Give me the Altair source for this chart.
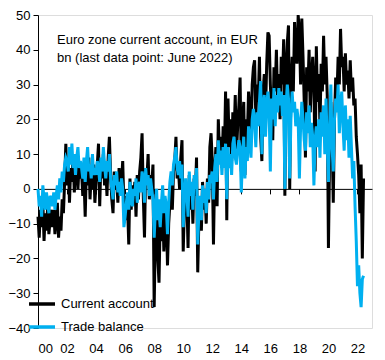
import altair as alt
import pandas as pd

# Monthly values, Jan 2000 - Jun 2022, EUR bn
CURRENT_ACCOUNT = [
    -8, -14, -6, -11, -4, -15, -7, -12, -5, -13, -9, -6,      # 2000
    -11, -6, -13, -9, -4, -14, -8, -12, -3, -7, 2, 13,        # 2001
    1, 9, -4, 6, 2, 10, -1, 5, 8, 0, 7, 3,                    # 2002
    5, -2, 3, -8, 6, 1, 9, -3, 4, 0, 7, -4,                   # 2003
    2, 7, 13, -5, 8, 3, 10, 1, 6, -2, 9, 15,                  # 2004
    4, -3, -7, 5, 0, 3, -4, 6, -2, 2, 8, -5,                  # 2005
    -9, -2, -5, -16, 3, -6, 1, -4, 2, -8, 4, -3,              # 2006
    5, 9, 16, -2, -14, 6, 3, 10, -3, 4, 1, 7,                 # 2007
    -34, -12, -5, -20, -27, -8, -15, -3, -18, -10, -6, -22,   # 2008
    -10, -4, 2, -6, 5, 8, 15, 3, 6, 0, 9, 14,                 # 2009
    -18, -5, 2, -3, -17, 4, -6, 1, -10, 3, -2, 9,             # 2010
    -24, -8, -3, -12, 2, -6, -1, -10, 3, -4, 12, 16,          # 2011
    8, -16, 5, 12, -5, 20, 10, 15, 6, 18, 9, 28,              # 2012
    -9, 26, 12, 20, 8, 22, 15, 27, 10, 18, 24, 32,            # 2013
    5, 18, 25, 4, 20, 15, 28, 22, 14, 30, 35, 37,             # 2014
    20, 30, 25, 38, 15, 8, 28, 33, 22, 36, 45, 44,            # 2015
    30, 22, 14, 35, 28, 40, 25, 33, 20, 38, 30, 43,           # 2016
    -2, 35, 42, 47, 0, 30, 38, 28, 48, 40, 36, 50,            # 2017
    45, 30, 49, 38, 25, 9, 35, 28, 40, 22, 32, 38,            # 2018
    30, 5, 41, 25, 33, 18, 36, 28, 44, 30, 38, 27,            # 2019
    -17, 10, 25, 15, -4, 20, 32, 26, 38, 30, 46, 35,          # 2020
    38, 28, 39, 30, 34, 26, 37, 28, 32, 24, 26, 15,           # 2021
    10, 4, -7, 7, -20, 3,                                     # 2022
]

TRADE_BALANCE = [
    0, -5, -2, -8, 1, -3, -6, -1, -4, -7, -2, -3,             # 2000
    -5, -1, -6, -2, 1, -3, 3, -1, 5, 2, 7, 9,                 # 2001
    8, 5, 12, 7, 13, 6, 10, 4, 9, 12, 6, 8,                   # 2002
    6, 3, 9, 2, 8, 12, 5, 7, 3, 10, 4, 6,                     # 2003
    4, 8, 6, 2, 9, 5, 12, 7, 3, 8, 5, 10,                     # 2004
    3, 0, -3, 4, 1, 5, -1, 2, -2, 3, 0, -11,                  # 2005
    -8, -4, -1, -6, 2, -3, -5, 0, -2, 3, -4, 1,               # 2006
    2, -1, 5, 3, -4, 6, 1, 4, -2, 3, 0, -3,                   # 2007
    -14, -6, 0, -9, -3, -11, -4, 1, -7, -2, -5, -13,          # 2008
    -4, 2, 5, 1, 7, 9, 12, 6, 4, 8, 3, 7,                     # 2009
    -11, -3, 3, -1, -8, 5, -2, 2, -6, 4, 0, 6,                # 2010
    -16, -6, -2, -9, 1, -4, 0, -7, 2, -3, 4, 3,               # 2011
    5, -3, 6, 10, 2, 14, 7, 11, 4, 12, 6, 13,                 # 2012
    -3, 12, 6, 10, 4, 13, 15, 9, 7, 11, 14, 12,               # 2013
    -1, 10, 15, 3, 12, 8, 18, 14, 9, 20, 23, 19,              # 2014
    12, 22, 18, 25, 31, 10, 24, 27, 15, 24, 28, 22,           # 2015
    5, 26, 20, 29, 18, 27, 22, 29, 24, 28, 21, 27,            # 2016
    0, 24, 30, 26, 3, 20, 28, 22, 25, 18, 23, 20,             # 2017
    3, 18, 25, 20, 14, 11, 22, 16, 24, 12, 19, 15,            # 2018
    1, 14, 18, 12, 20, 9, 22, 15, 24, 10, 26, 13,             # 2019
    2, 18, 30, 12, 5, 20, 26, 22, 30, 16, 24, 28,             # 2020
    18, 11, 24, 14, 20, 9, 21, 12, 3, 8, -5, -15,             # 2021
    -28, -22, -30, -34, -26, -25,                             # 2022
]

SERIES = ["Current account", "Trade balance"]
COLORS = ["#000000", "#00B0F0"]
START_YEAR = 2000
X_TICKS = list(range(2000, 2023, 2))
X_TICK_LABELS = ["00", "02", "04", "06", "08", "10", "12", "14", "16", "18", "20", "22"]
Y_TICKS = list(range(-40, 51, 10))
TITLE_LINES = ["Euro zone current account, in EUR", "bn (last data point: June 2022)"]

rows = []
for name, vals in zip(SERIES, [CURRENT_ACCOUNT, TRADE_BALANCE]):
    for i, v in enumerate(vals):
        rows.append({"t": START_YEAR + i / 12.0, "v": v, "series": name})
df = pd.DataFrame(rows)

FONT = "Liberation Sans"
FS = 13
PLOT_W, PLOT_H = 334, 313

x_scale = alt.Scale(domain=[2000, 2023], nice=False, zero=False)
y_scale = alt.Scale(domain=[-40, 50], nice=False, zero=False)

label_expr = "[" + ",".join("'%s'" % s for s in X_TICK_LABELS) + "][round((datum.value - 2000) / 2)]"

label_axis = alt.Axis(values=X_TICKS, labelExpr=label_expr, domain=False, ticks=False,
                      tickSize=0, grid=False, title=None, labelPadding=14,
                      labelFontSize=FS, labelFont=FONT, labelColor="black", orient="bottom")
zero_axis = alt.Axis(values=X_TICKS, labels=False, ticks=True, tickSize=5, tickColor="black",
                     tickWidth=1, domain=True, domainColor="black", domainWidth=1, grid=False,
                     title=None, orient="bottom", offset=-PLOT_H * 40 / 90)
y_axis = alt.Axis(values=Y_TICKS, tickSize=5, tickColor="black", tickWidth=1, domainColor="black",
                  domainWidth=1, labelFontSize=FS, labelFont=FONT, labelColor="black",
                  labelPadding=3, grid=False, title=None)

color = alt.Color("series:N", scale=alt.Scale(domain=SERIES, range=COLORS),
                  legend=alt.Legend(orient="none", legendX=-11, legendY=274, title=None,
                                    symbolType="stroke", symbolSize=676, symbolStrokeWidth=3.5,
                                    labelFontSize=FS, labelFont=FONT, labelColor="black",
                                    rowPadding=1, padding=0, labelOffset=4, direction="vertical"))

ca = alt.Chart(df).transform_filter(alt.datum.series == SERIES[0]).mark_line(strokeWidth=3).encode(
    x=alt.X("t:Q", scale=x_scale, axis=label_axis),
    y=alt.Y("v:Q", scale=y_scale, axis=y_axis),
    color=color,
)
tb = alt.Chart(df).transform_filter(alt.datum.series == SERIES[1]).mark_line(strokeWidth=3).encode(
    x=alt.X("t:Q", scale=x_scale, axis=zero_axis),
    y=alt.Y("v:Q", scale=y_scale, axis=y_axis),
    color=color,
)
title = alt.Chart(pd.DataFrame({"a": [0]})).mark_text(
    text=TITLE_LINES, align="left", baseline="middle", lineHeight=18,
    fontSize=FS, font=FONT, color="black",
).encode(x=alt.value(19), y=alt.value(25))

chart = alt.layer(ca, tb, title).resolve_axis(x="independent").properties(
    width=PLOT_W, height=PLOT_H,
    padding={"left": 30, "top": 7, "right": 5, "bottom": 30},
    autosize=alt.AutoSizeParams(type="none"),
).configure_view(stroke=None).configure(background="white")

chart.save("out.html", embed_options={"renderer": "svg", "actions": False})
